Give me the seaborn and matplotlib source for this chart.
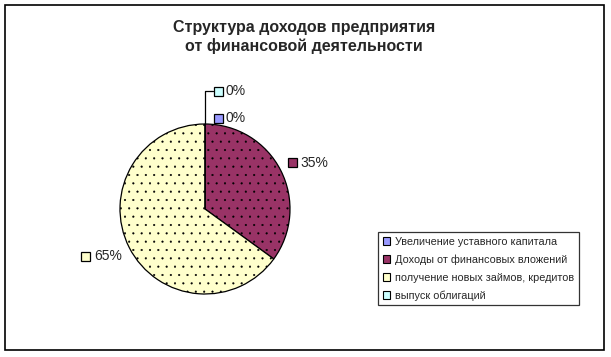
#Pie chart: structure of income from financial activity
import matplotlib
matplotlib.use("Agg")
import matplotlib.pyplot as plt
import matplotlib.patches as mpatches
import numpy as np
import seaborn as sns

# Data
categories = ["Увеличение уставного капитала",
              "Доходы от финансовых вложений",
              "получение новых займов, кредитов",
              "выпуск облигаций"]
shares = [0, 35, 65, 0]
colors = ["#9999FF", "#993366", "#FFFFCC", "#CCFFFF"]
title = "Структура доходов предприятия\nот финансовой деятельности"

sns.set_style("white")
plt.rcParams['font.family'] = ['Liberation Sans', 'DejaVu Sans']
plt.rcParams['hatch.linewidth'] = 0.3

fig = plt.figure(figsize=(6.11, 3.57), dpi=100)
W, H = 611, 357
ax = fig.add_axes([0, 0, 1, 1])

# outer frame
ax.add_patch(mpatches.Rectangle((5, H - 350), 599, 345, fill=False,
                                edgecolor='black', lw=1.2))

cx, cy, r = 205, H - 209, 85
wedges, _ = ax.pie(shares, colors=colors, startangle=90, counterclock=False,
                   center=(cx, cy), radius=r, frame=True,
                   wedgeprops=dict(edgecolor='black', linewidth=0.9))
ax.set_xlim(0, W)
ax.set_ylim(0, H)
ax.axis('off')
for w, c in zip(wedges, colors):
    if c in ("#993366", "#FFFFCC"):
        w.set_hatch('..')
        w.set_edgecolor('black')

# data labels with small colored keys
def key_label(x, y, color, text, side='left'):
    # side='left': key starts at x; side='right': text ends at x
    if side == 'left':
        kx = x + 4.5
        ax.text(kx + 8, y, text, fontsize=10, va='center', ha='left')
    else:
        t = ax.text(x, y, text, fontsize=10, va='center', ha='right')
        fig.canvas.draw()
        bb = t.get_window_extent()
        kx = bb.x0 - 8
    ax.add_patch(mpatches.Rectangle((kx - 4.5, y - 4.5), 9, 9, facecolor=color,
                                    edgecolor='black', lw=0.9))

# big slices: place along mid-angle
cum = np.cumsum([0] + shares[:-1])
for i, (s, c) in enumerate(zip(shares, colors)):
    if s == 0:
        continue
    mid = np.deg2rad(90 - (cum[i] + s / 2) * 3.6)
    x = cx + 1.1 * r * np.cos(mid)
    y = cy + 1.1 * r * np.sin(mid)
    key_label(x, y + (4 if np.cos(mid) > 0 else -5), c, f"{s}%",
              side='left' if np.cos(mid) > 0 else 'right')

# zero slices: leader line from the top of the pie
top = cy + r
key_label(213.5, H - 118, colors[0], f"{shares[0]}%")
key_label(213.5, H - 91, colors[3], f"{shares[3]}%")
ax.plot([cx, cx, 213], [top, H - 91, H - 91], color='black', lw=0.9)

# title
ax.text(304, H - 37, title, fontsize=11.5, fontweight='bold', ha='center',
        va='center', linespacing=1.25)

# legend
handles = [mpatches.Patch(facecolor=c, edgecolor='black', lw=0.8) for c in colors]
leg = fig.legend(handles, categories, loc='upper left',
                 bbox_to_anchor=(378 / W, 1 - 232 / H), fontsize=7.8,
                 frameon=True, fancybox=False, edgecolor='black',
                 handlelength=0.7, handleheight=0.7, handletextpad=0.4,
                 labelspacing=0.7, borderpad=0.45, borderaxespad=0)
leg.get_frame().set_linewidth(0.9)

plt.savefig("out.png", dpi=100)
